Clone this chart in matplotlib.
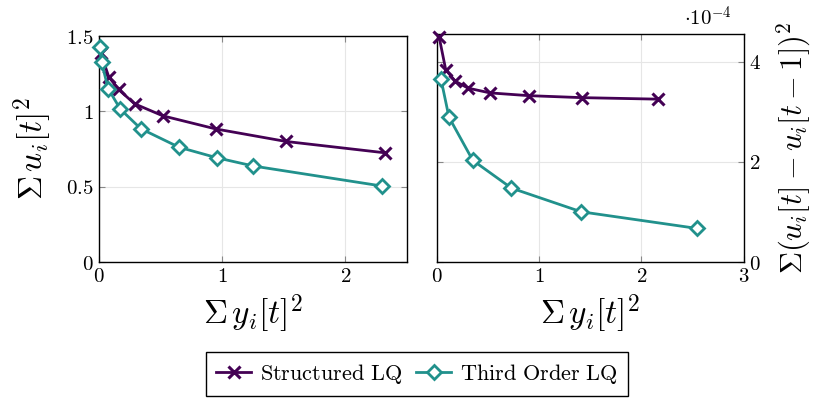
import numpy as np
import matplotlib
matplotlib.use('Agg')
import matplotlib.pyplot as plt
from matplotlib.ticker import FuncFormatter
from matplotlib.lines import Line2D

plt.rcParams['mathtext.fontset'] = 'cm'
plt.rcParams['font.family'] = 'serif'
plt.rcParams['font.serif'] = ['DejaVu Serif']

# left panel: sum u^2 vs sum y^2
s_y_left = [0.014, 0.08, 0.16, 0.29, 0.52, 0.95, 1.52, 2.32]
s_u_left = [1.39, 1.23, 1.145, 1.05, 0.97, 0.883, 0.80, 0.725]
t_y_left = [0.008, 0.022, 0.076, 0.174, 0.34, 0.65, 0.957, 1.255, 2.30]
t_u_left = [1.425, 1.326, 1.15, 1.015, 0.885, 0.762, 0.692, 0.637, 0.504]

# right panel: sum du^2 vs sum y^2
s_y_right = [0.023, 0.088, 0.18, 0.306, 0.52, 0.897, 1.42, 2.16]
s_du_right = [4.50e-4, 3.84e-4, 3.61e-4, 3.47e-4, 3.375e-4, 3.32e-4, 3.28e-4, 3.25e-4]
t_y_right = [0.042, 0.12, 0.352, 0.73, 1.41, 2.54]
t_du_right = [3.65e-4, 2.89e-4, 2.03e-4, 1.475e-4, 1.003e-4, 0.671e-4]

purple = '#440154'
teal = '#21918c'

def mt(s):
    return '$\\mathrm{' + s.replace(' ', '\\ ') + '}$'

fig = plt.figure(figsize=(8.17, 4.01), dpi=100)
ax1 = fig.add_axes([0.121, 0.3466, 0.377, 0.5636])
ax2 = fig.add_axes([0.5345, 0.3466, 0.376, 0.5686])

def style(ax):
    ax.grid(True, color='#e6e6e6', lw=0.8)
    ax.set_axisbelow(True)
    ax.tick_params(direction='in', length=4, width=0.8, color='#888888',
                   labelsize=15, top=True, right=True)
    for sp in ax.spines.values():
        sp.set_linewidth(1.0)

def draw(ax, sx, sy, tx, ty):
    ax.plot(sx, sy, color=purple, lw=2, marker='x', ms=8, mew=2.2, clip_on=False, zorder=3)
    ax.plot(tx, ty, color=teal, lw=2, marker='D', ms=7, mew=2, mfc='white', clip_on=False, zorder=3)

draw(ax1, s_y_left, s_u_left, t_y_left, t_u_left)
draw(ax2, s_y_right, s_du_right, t_y_right, t_du_right)

style(ax1)
style(ax2)

ax1.set_xlim(0, 2.5)
ax1.set_ylim(0, 1.5)
ax1.set_xticks([0, 1, 2])
ax1.set_yticks([0, 0.5, 1, 1.5])
ax1.xaxis.set_major_formatter(FuncFormatter(lambda v, _: '$%g$' % v))
ax1.yaxis.set_major_formatter(FuncFormatter(lambda v, _: '$%g$' % v))
ax1.set_xlabel(r'$\Sigma\, y_i[t]^2$', fontsize=24, labelpad=5)
ax1.set_ylabel(r'$\Sigma\, u_i[t]^2$', fontsize=24, labelpad=8)

ax2.set_xlim(0, 3)
ax2.set_ylim(0, 4.55e-4)
ax2.set_xticks([0, 1, 2, 3])
ax2.set_yticks([0, 2e-4, 4e-4])
ax2.tick_params(axis='y', labelleft=False, labelright=True)
ax2.xaxis.set_major_formatter(FuncFormatter(lambda v, _: '$%g$' % v))
ax2.yaxis.set_major_formatter(FuncFormatter(lambda v, _: '$%g$' % round(v * 1e4, 6)))
ax2.yaxis.set_label_position('right')
ax2.set_xlabel(r'$\Sigma\, y_i[t]^2$', fontsize=24, labelpad=5)
ax2.set_ylabel(r'$\Sigma(u_i[t]-u_i[t-1])^2$', fontsize=22, labelpad=10)
ax2.text(0.96, 1.02, r'$\cdot 10^{-4}$', transform=ax2.transAxes, ha='right', va='bottom', fontsize=15)

handles = [Line2D([], [], color=purple, lw=2, marker='x', ms=8, mew=2.2),
           Line2D([], [], color=teal, lw=2, marker='D', ms=7, mew=2, mfc='white')]
fig.legend(handles, [mt('Structured LQ'), mt('Third Order LQ')], loc='center',
           bbox_to_anchor=(0.51, 0.067), ncol=2, fontsize=16, fancybox=False,
           edgecolor='black', framealpha=1, handlelength=1.6, handletextpad=0.4,
           columnspacing=0.6, borderpad=0.45)

fig.savefig('out.png', dpi=100)
